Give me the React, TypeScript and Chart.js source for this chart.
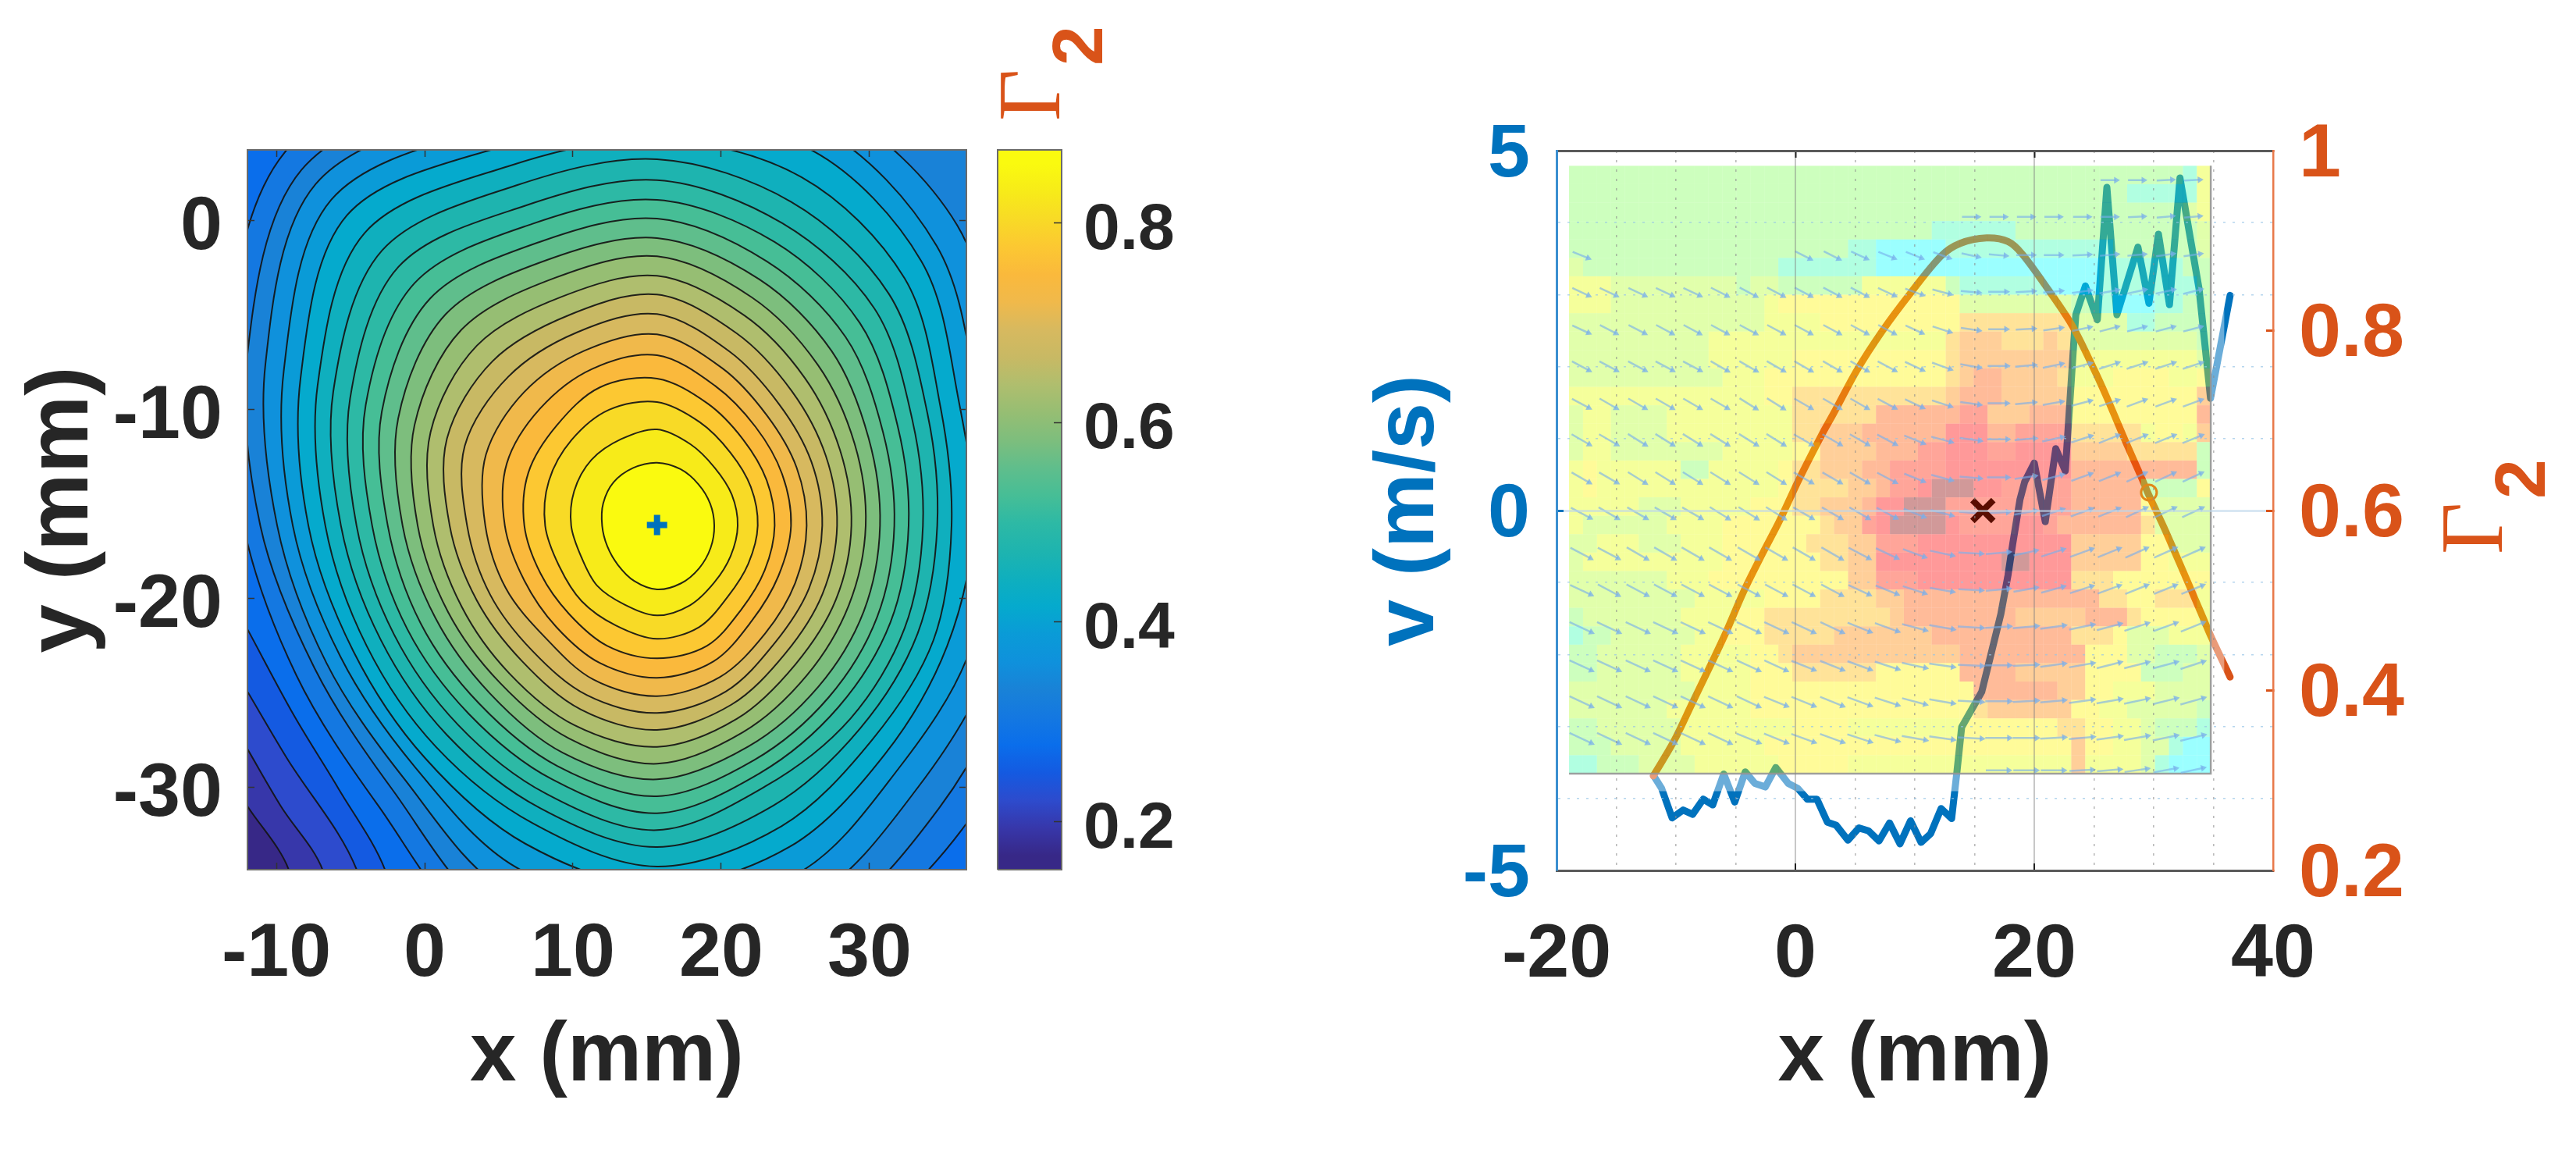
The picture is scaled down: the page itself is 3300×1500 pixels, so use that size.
import React, { useEffect, useRef } from "react";
import { Chart, registerables } from "chart.js";

Chart.register(...registerables);

const FONT = "'Liberation Sans'";
const DARK = "#262626";
const BLUE = "#0072BD";
const ORANGE = "#D95319";

// ---------- left panel
// contours 1-21, inner to outer: distance from the peak, read along 16 spokes
// (0, 22.5, 45 ... 337.5 degrees, anticlockwise from +x); 57 units = 1 mm along x, 72.6 units = 1 mm along y
const peakX = 15.67;
const peakY = -16.13;
const unitsPerMmX = 57;
const unitsPerMmY = 72.6;
const level1 = [220,221,225,235,242,240,236,224,211,207,213,230,245,240,230,223];
const level2 = [310,311,314,338,370,360,357,345,330,315,326,328,345,331,310,306];
const level3 = [387,390,398,430,475,482,465,450,430,407,410,415,435,422,385,380];
const level4 = [452,456,468,508,565,575,545,535,510,484,479,500,510,500,457,448];
const level5 = [515,520,536,582,655,652,636,625,585,552,549,572,585,565,516,505];
const level6 = [575,581,598,655,735,728,724,712,660,629,608,640,655,630,587,575];
const level7 = [635,642,662,725,813,804,809,800,730,694,679,705,720,690,639,632];
const level8 = [692,702,732,800,888,877,894,874,797,750,735,765,785,745,696,688];
const level9 = [747,761,803,875,960,953,979,942,860,813,803,830,850,803,753,744];
const level10 = [802,822,874,950,1035,1030,1064,1009,920,869,854,885,915,860,814,798];
const level11 = [857,880,949,1025,1105,1105,1149,1077,978,923,910,945,975,918,876,860];
const level12 = [912,940,1025,1100,1180,1180,1234,1145,1035,983,967,1000,1040,975,933,916];
const level13 = [967,1001,1102,1180,1252,1255,1318,1212,1095,1039,1023,1055,1105,1030,986,971];
const level14 = [1022,1062,1181,1258,1328,1330,1406,1277,1155,1094,1082,1115,1170,1085,1050,1030];
const level15 = [1077,1125,1260,1347,1408,1415,1495,1347,1215,1149,1140,1175,1235,1165,1103,1084];
const level16 = [1132,1180,1345,1450,1485,1495,1590,1412,1275,1208,1202,1240,1310,1250,1167,1150];
const level17 = [1215,1255,1437,1560,1565,1575,1686,1483,1340,1263,1262,1323,1385,1335,1240,1207];
const level18 = [1280,1330,1520,1650,1650,1660,1771,1553,1400,1317,1314,1420,1470,1440,1316,1295];
const level19 = [1355,1420,1632,1745,1740,1745,1856,1629,1460,1376,1375,1520,1560,1550,1420,1385];
const level20 = [1435,1550,1950,1900,1835,1835,1933,1705,1525,1426,1437,1620,1650,1660,1534,1470];
const level21 = [1500,1650,2100,2100,1950,1950,2026,1790,1590,1501,1518,1720,1740,1750,1655,1560];
const radialLevels = [level1,level2,level3,level4,level5,level6,level7,level8,level9,level10,level11,level12,level13,level14,level15,level16,level17,level18,level19,level20,level21];

// the corner contours 22-25 (x, y in mm), closed far outside the axes
const c22X = [-11.93,-8.81,-5.82,-2.67,-0.04,49,49,-21.09,-21.09];
const c22Y = [-21.64,-26.18,-30.04,-34.35,-41.6,-41.6,10.73,10.73,-19.57];
const c23X = [-11.93,-9.33,-4.58,-2.67,49,49,-21.09,-21.09];
const c23Y = [-24.94,-28.39,-34.35,-41.6,-41.6,10.73,10.73,-22];
const c24X = [-11.93,-9.68,-6.88,-4.58,49,49,-21.09,-21.09];
const c24Y = [-27.98,-31,-34.35,-41.6,-41.6,10.73,10.73,-25];
const c25X = [-11.93,-9.16,-6.88,49,49,-21.09,-21.09];
const c25Y = [-31,-34.35,-41.6,-41.6,10.73,10.73,-28];
const frameX = [-21.09,49,49,-21.09];
const frameY = [-41.6,-41.6,10.73,10.73];
const cornerXs = [c22X,c23X,c24X,c25X];
const cornerYs = [c22Y,c23Y,c24Y,c25Y];

// band colours, from the peak outwards; the last one is the lowest level
const bandColors = [
  "rgb(250,250,15)","rgb(247,235,25)","rgb(248,218,38)","rgb(252,200,50)","rgb(250,185,60)",
  "rgb(240,185,75)","rgb(215,185,95)","rgb(200,185,100)","rgb(175,190,110)","rgb(150,190,115)",
  "rgb(125,190,125)","rgb(95,190,140)","rgb(70,190,150)","rgb(45,185,165)","rgb(30,180,175)",
  "rgb(15,175,190)","rgb(5,170,205)","rgb(10,155,215)","rgb(15,145,220)","rgb(25,130,215)",
  "rgb(20,120,225)","rgb(10,110,235)","rgb(20,90,225)","rgb(45,75,205)","rgb(55,55,170)","rgb(55,40,135)",
];
const colorbarEdges = [0.873,0.845,0.817,0.79,0.762,0.734,0.707,0.679,0.651,0.624,0.596,0.568,0.54,0.513,0.485,0.457,0.43,0.402,0.374,0.346,0.319,0.291,0.263,0.235,0.208,0.18,0.152];
const peakMarker = [{ x: 15.67, y: -16.1 }];

// ---------- right panel
const gammaX = [-11.9,-10.2,-8.6,-7,-5.8,-4.3,-2.8,-1.35,0.28,2.2,3.2,5.2,7.3,9.6,12.2,13.8,16,17.8,19,21.2,23.2,25,26.1,27.8,29,29.6,30.8,31.4,33,34,34.8,36.4];
const gammaY = [0.305,0.343,0.387,0.431,0.465,0.511,0.551,0.588,0.634,0.684,0.708,0.757,0.8,0.841,0.883,0.897,0.903,0.899,0.885,0.845,0.805,0.757,0.725,0.672,0.636,0.617,0.583,0.565,0.516,0.485,0.46,0.415];
const velocityX = [-11.88,-11.2,-10.32,-9.4,-8.6,-7.72,-6.92,-6,-5.08,-4.2,-3.4,-2.52,-1.64,-0.6,0.2,1,1.8,2.68,3.4,4.4,5.32,6.12,7,7.88,8.76,9.64,10.52,11.32,12.2,13.08,13.52,13.92,15.6,16.4,17.2,17.8,18.2,18.8,19.2,20,20.92,21.8,22.6,23.32,23.48,24.28,25.28,26.08,26.92,28.68,29.6,30.4,31.32,32.2,33.8,34.76,36.4];
const velocityY = [-3.68,-3.86,-4.27,-4.16,-4.22,-4.01,-4.09,-3.66,-4.05,-3.63,-3.79,-3.84,-3.57,-3.79,-3.86,-4.01,-4.01,-4.33,-4.37,-4.58,-4.41,-4.45,-4.59,-4.34,-4.63,-4.31,-4.61,-4.49,-4.14,-4.28,-3.64,-3.01,-2.52,-1.98,-1.44,-0.9,-0.46,0.15,0.4,0.66,-0.155,0.86,0.55,2.36,2.72,3.12,2.65,4.49,2.72,3.66,2.88,3.84,2.86,4.62,3.08,1.56,2.99];
const optimumMarker = [{ x: 15.7, y: 0 }];
const gammaMarker = [{ x: 29.6, y: 0.62 }];

// background field: one string per row, top to bottom, one level character per cell
const fieldRows = [
  "2222222222222222222222222222222222222222222214",
  "2222222222222222222222222222222222222222111114",
  "2222222222222222222222222222222222222222222234",
  "2222222222222222222222222" + "21111" + "11222" + "22222" + "22222" + "3",
  "22222222222222222222" + "11000" + "00111" + "11111" + "11112" + "22222" + "3",
  "322222222222222" + "11111" + "11000" + "00000" + "00000" + "00011" + "11112" + "2",
  "44433" + "33333" + "33233" + "22222" + "24444" + "44211" + "11110" + "00011" + "11111" + "2",
  "44433" + "33333" + "33334" + "55555" + "55555" + "55533" + "33333" + "32210" + "00112" + "2",
  "33333" + "33333" + "33334" + "44455" + "55555" + "55566" + "66666" + "63333" + "11222" + "2",
  "33333" + "33333" + "44444" + "44444" + "44444" + "44677" + "76667" + "63333" + "33333" + "2",
  "33333" + "33333" + "44444" + "45555" + "55555" + "55677" + "77777" + "74444" + "44444" + "3",
  "33333" + "33333" + "34445" + "55555" + "55555" + "55678" + "87777" + "64445" + "55544" + "5",
  "44444" + "44444" + "44445" + "56666" + "66666" + "66788" + "87777" + "75555" + "55555" + "7",
  "34433" + "33444" + "44444" + "46666" + "66888" + "88899" + "77788" + "85555" + "55555" + "8",
  "34433" + "33444" + "44444" + "46677" + "78888" + "88AAA" + "88999" + "96666" + "64554" + "7",
  "34433" + "33333" + "34444" + "45577" + "77888" + "99AAA" + "99AAA" + "A7777" + "66666" + "2",
  "45444" + "44422" + "44444" + "56677" + "78899" + "99AAA" + "AAAAA" + "A8888" + "88888" + "2",
  "45444" + "44444" + "44444" + "56666" + "77899" + "ABBBA" + "A9999" + "98888" + "82222" + "5",
  "44444" + "33344" + "44455" + "56677" + "78AAB" + "BB999" + "99999" + "98888" + "85333" + "3",
  "43333" + "33444" + "45555" + "55567" + "79ABB" + "BBA99" + "99AA9" + "88888" + "86333" + "3",
  "33444" + "33344" + "45555" + "55666" + "77999" + "AAAAA" + "AAAAA" + "A7777" + "75533" + "3",
  "34444" + "44444" + "45555" + "55566" + "77AAA" + "AAAAA" + "ABBAA" + "A7777" + "75544" + "4",
  "33333" + "33444" + "55555" + "55555" + "77999" + "AAAAA" + "AAAAA" + "A6665" + "55555" + "5",
  "33333" + "33334" + "44445" + "55566" + "66778" + "88888" + "88888" + "88866" + "55666" + "4",
  "23333" + "33344" + "44556" + "66666" + "66678" + "88888" + "88777" + "77888" + "65555" + "4",
  "12233" + "33334" + "45556" + "66667" + "77777" + "78888" + "88888" + "86665" + "33344" + "4",
  "22333" + "33344" + "44455" + "67777" + "77777" + "77788" + "88888" + "88555" + "33222" + "3",
  "22333" + "33344" + "44455" + "56666" + "66555" + "55588" + "88777" + "77555" + "52223" + "3",
  "33333" + "33334" + "44455" + "55555" + "55555" + "55558" + "88888" + "77554" + "44333" + "3",
  "33333" + "33444" + "44455" + "55555" + "55555" + "55556" + "77777" + "75544" + "33333" + "2",
  "22333" + "33344" + "44444" + "45555" + "44444" + "44455" + "55555" + "66554" + "43222" + "1",
  "22233" + "33344" + "44445" + "55555" + "55555" + "55555" + "55555" + "57554" + "43310" + "0",
  "11222" + "33334" + "44444" + "55555" + "44444" + "44444" + "44444" + "47444" + "43100" + "0",
];
const fieldColors: Record<string, string> = {
  "0": "5,255,255", "1": "60,255,180", "2": "130,255,92", "3": "180,255,45",
  "4": "230,255,5", "5": "255,245,0", "6": "255,185,0", "7": "255,135,0",
  "8": "255,85,0", "9": "255,30,0", "A": "255,0,0", "B": "140,0,0",
};
const fieldLeft = -18.95;
const fieldRight = 34.78;
const fieldTop = 4.79;
const fieldBottom = -3.655;

// arrow field
const arrowColumns = [-18,-15.7,-13.3,-11,-8.7,-6.4,-4,-1.7,0.6,3,5.3,7.6,9.9,12.2,14.6,16.9,19.2,21.5,23.9,26.2,28.5,30.9,33.2];
const arrowRowV = [4.59,4.08,3.55,3.04,2.52,2.01,1.49,0.99,0.46,-0.03,-0.59,-1.1,-1.62,-2.15,-2.65,-3.16,-3.61];
const arrowRowLength = [1.3,1.3,1.4,1.5,1.5,1.6,1.6,1.7,1.7,1.8,1.9,1.9,2,2,2,2,1.9];
const _ = null;
const arrowAngles: (number | null)[][] = [
  [_,_,_,_,_,_,_,_,_,_,_,_,_,_,_,_,_,_,_,0,0,3,3],
  [_,_,_,_,_,_,_,_,_,_,_,_,_,_,0,0,0,0,0,0,3,5,5],
  [-22,_,_,_,_,_,_,_,-27,-27,-25,-22,-22,-20,-12,-5,0,0,3,5,5,8,8],
  [-25,-25,-25,-25,-25,-27,-28,-28,-28,-28,-28,-25,-20,-15,-5,0,3,5,8,10,12,12,14],
  [-25,-27,-27,-28,-28,-28,-28,-28,-28,-28,-28,-28,-25,-18,-8,0,3,8,12,15,15,15,15],
  [-28,-28,-28,-28,-28,-30,-30,-30,-30,-30,-30,-28,-25,-20,-10,0,5,12,15,18,18,18,18],
  [-28,-30,-30,-30,-30,-30,-32,-32,-30,-30,-30,-28,-25,-18,-8,0,5,10,15,18,20,20,20],
  [-30,-30,-32,-32,-32,-32,-32,-32,-30,-30,-30,-28,-22,-15,-8,0,5,12,18,22,22,22,22],
  [-30,-30,-32,-32,-32,-32,-32,-32,-30,-30,-30,-28,-22,-15,-5,0,8,15,20,22,25,25,25],
  [-28,-30,-30,-30,-30,-32,-32,-32,-30,-30,-30,-28,-22,-15,-5,3,10,18,20,22,25,25,25],
  [-28,-28,-30,-30,-30,-30,-30,-30,-30,-30,-28,-25,-20,-12,-3,5,12,18,20,22,24,24,24],
  [-25,-28,-28,-28,-28,-28,-28,-28,-28,-28,-25,-22,-18,-10,-3,5,10,15,18,20,22,22,22],
  [-25,-25,-25,-25,-25,-25,-25,-25,-25,-25,-22,-20,-15,-10,-3,3,5,8,12,15,18,20,22],
  [-25,-25,-25,-25,-25,-25,-25,-25,-22,-22,-20,-18,-12,-8,-3,0,3,8,10,14,14,15,18],
  [-25,-25,-25,-25,-25,-25,-25,-22,-22,-22,-20,-18,-15,-10,-3,0,3,5,8,10,12,14,16],
  [-25,-25,-25,-25,-25,-25,-22,-22,-20,-20,-18,-15,-10,-8,-3,0,0,3,5,8,10,12,14],
  [_,_,_,_,_,_,_,_,_,_,_,_,_,_,_,0,0,0,3,5,8,10,12],
];

const zip = (xs: number[], ys: number[]) => xs.map((x, i) => ({ x, y: ys[i] }));
const closed = (xs: number[], ys: number[]) => {
  const p = zip(xs, ys);
  p.push(p[0]);
  return p;
};
// a radial contour as a closed run, overlapping at the seam so the curve has no corner there;
// the two overlapping end pieces are not stroked
const radialContour = (radii: number[]) => {
  const n = radii.length;
  const p = radii.map((r, i) => {
    const t = (i * 2 * Math.PI) / n;
    return { x: peakX + (r * Math.cos(t)) / unitsPerMmX, y: peakY + (r * Math.sin(t)) / unitsPerMmY };
  });
  return [p[n - 1], ...p, p[0], p[1]];
};
const box = (s: any, w?: number, h?: number) => {
  if (w !== undefined) s.width = w;
  if (h !== undefined) s.height = h;
};
const gammaLabel = (gx: number, gy: number, sx: number, sy: number) => ({
  id: "gammaLabel",
  afterDraw(chart: any) {
    const { ctx } = chart;
    ctx.save();
    ctx.fillStyle = ORANGE;
    ctx.textBaseline = "alphabetic";
    ctx.translate(gx, gy);
    ctx.rotate(-Math.PI / 2);
    ctx.font = "115px 'Liberation Serif'";
    ctx.fillText("Γ", 0, 0);
    ctx.restore();
    ctx.save();
    ctx.fillStyle = ORANGE;
    ctx.textBaseline = "alphabetic";
    ctx.translate(sx, sy);
    ctx.rotate(-Math.PI / 2);
    ctx.font = `bold 91px ${FONT}`;
    ctx.fillText("2", 0, 0);
    ctx.restore();
  },
});

const tickFont = { family: FONT, size: 97, weight: "bold" as const };
const titleFont = { family: FONT, size: 107, weight: "bold" as const };
const frameBorder = { display: true, color: "#6b6b6b", width: 2, z: 2 };

function makeContourChart(canvas: HTMLCanvasElement) {
  const contourStyle = (i: number) => ({
    borderColor: "rgba(20,20,20,0.92)",
    borderWidth: 2,
    backgroundColor: bandColors[i],
    fill: "shape",
    tension: 0.33,
    capBezierPoints: false,
    pointRadius: 0,
    order: i + 2,
  });
  const datasets: any[] = radialLevels.map((radii, i) => ({
    data: radialContour(radii),
    ...contourStyle(i),
    segment: {
      borderColor: (s: any) => (s.p0DataIndex === 0 || s.p0DataIndex === radii.length + 1 ? "rgba(0,0,0,0)" : undefined),
    },
  }));
  cornerXs.forEach((xs, i) => {
    datasets.push({ data: closed(xs, cornerYs[i]), ...contourStyle(radialLevels.length + i) });
  });
  datasets.push({
    data: closed(frameX, frameY),
    borderWidth: 0,
    backgroundColor: bandColors[25],
    fill: "shape",
    pointRadius: 0,
    order: 40,
  });
  datasets.push({
    data: peakMarker,
    showLine: false,
    pointStyle: "cross",
    pointRadius: 13,
    pointBorderWidth: 8,
    pointBorderColor: BLUE,
    order: 0,
  });
  return new Chart(canvas, {
    type: "line",
    data: { datasets },
    options: {
      animation: false,
      responsive: false,
      devicePixelRatio: 1,
      events: [],
      layout: { padding: { top: 192, right: 60, left: 0, bottom: 0 } },
      plugins: { legend: { display: false }, tooltip: { enabled: false } },
      scales: {
        x: {
          type: "linear",
          position: "bottom",
          min: -11.95,
          max: 36.53,
          afterFit: (s: any) => box(s, undefined, 386),
          grid: { drawOnChartArea: false, tickLength: -9, tickColor: "#333", tickWidth: 1.5, z: 1 },
          border: frameBorder,
          ticks: {
            stepSize: 10,
            includeBounds: false,
            autoSkip: false,
            maxRotation: 0,
            padding: 60,
            color: DARK,
            font: tickFont,
            callback: (v: any) => String(v),
          },
          title: { display: true, text: "x (mm)", color: DARK, font: titleFont, padding: { top: 0, bottom: 81 } },
        },
        xTop: {
          type: "linear",
          position: "top",
          min: -11.95,
          max: 36.53,
          afterFit: (s: any) => box(s, undefined, 0),
          grid: { drawOnChartArea: false, tickLength: -9, tickColor: "#333", tickWidth: 1.5, z: 1 },
          border: frameBorder,
          ticks: { stepSize: 10, includeBounds: false, display: false },
        },
        y: {
          type: "linear",
          position: "left",
          min: -34.34,
          max: 3.76,
          afterFit: (s: any) => box(s, 317),
          grid: { drawOnChartArea: false, tickLength: -9, tickColor: "#333", tickWidth: 1.5, z: 1 },
          border: frameBorder,
          ticks: {
            stepSize: 10,
            includeBounds: false,
            autoSkip: false,
            padding: 41,
            labelOffset: 9,
            color: DARK,
            font: tickFont,
            callback: (v: any) => String(v),
          },
          title: {
            display: true,
            text: "y (mm)",
            color: DARK,
            font: { family: FONT, size: 112, weight: "bold" },
            padding: { top: 14, bottom: 0 },
          },
        },
        yRight: {
          type: "linear",
          position: "right",
          min: -34.34,
          max: 3.76,
          afterFit: (s: any) => box(s, 0),
          grid: { drawOnChartArea: false, tickLength: -9, tickColor: "#333", tickWidth: 1.5, z: 1 },
          border: frameBorder,
          ticks: { stepSize: 10, includeBounds: false, display: false },
        },
      },
    } as any,
  });
}

function makeColorbar(canvas: HTMLCanvasElement) {
  const fillGradient = (c: any) => {
    const { ctx, chartArea, scales } = c.chart;
    if (!chartArea) return bandColors[12];
    const g = ctx.createLinearGradient(0, chartArea.top, 0, chartArea.bottom);
    bandColors.forEach((col, i) => {
      const mid = (colorbarEdges[i] + colorbarEdges[i + 1]) / 2;
      const p = (scales.y.getPixelForValue(mid) - chartArea.top) / (chartArea.bottom - chartArea.top);
      g.addColorStop(Math.min(1, Math.max(0, p)), col);
    });
    return g;
  };
  return new Chart(canvas, {
    type: "bar",
    data: {
      datasets: [
        {
          data: [{ x: 0.5, y: [0.152, 0.873] }],
          backgroundColor: fillGradient,
          barThickness: 82,
          borderWidth: 0,
          order: 2,
        } as any,
        {
          type: "line",
          data: closed([0, 1, 1, 0], [0.152, 0.152, 0.873, 0.873]),
          borderColor: "#6b6b6b",
          borderWidth: 2,
          pointRadius: 0,
          order: 1,
          clip: false,
        } as any,
      ],
    },
    options: {
      animation: false,
      responsive: false,
      devicePixelRatio: 1,
      events: [],
      layout: { padding: { top: 192, left: 28, right: 0, bottom: 386 } },
      plugins: { legend: { display: false }, tooltip: { enabled: false } },
      scales: {
        x: { type: "linear", min: 0, max: 1, display: false, offset: false, grid: { offset: false } },
        y: {
          type: "linear",
          position: "right",
          min: 0.152,
          max: 0.873,
          afterFit: (s: any) => box(s, 340),
          grid: { drawOnChartArea: false, tickLength: -10, tickColor: "#333", tickWidth: 1.5, z: 1 },
          border: { display: false },
          ticks: {
            stepSize: 0.2,
            includeBounds: false,
            autoSkip: false,
            padding: 38,
            labelOffset: 10,
            color: DARK,
            font: { family: FONT, size: 84, weight: "bold" },
            callback: (v: any) => String(+Number(v).toFixed(1)),
          },
        },
      },
    } as any,
    plugins: [gammaLabel(107, 155, 162, 84)],
  });
}

function makeFieldChart(canvas: HTMLCanvasElement) {
  const nRows = fieldRows.length;
  const nCols = 46;
  const cellW = (fieldRight - fieldLeft) / nCols;
  const cellH = (fieldTop - fieldBottom) / nRows;
  const cells: any[] = [];
  const cellColors: string[] = [];
  fieldRows.forEach((row, r) => {
    for (let c = 0; c < nCols; c++) {
      const ch = row[c] ?? "2";
      cells.push({ x: fieldLeft + (c + 0.5) * cellW, y: [fieldTop - (r + 1) * cellH, fieldTop - r * cellH] });
      cellColors.push(`rgba(${fieldColors[ch]},0.4)`);
    }
  });
  // 15.3 px per mm and 92.2 px per m/s keep the arrows' drawn angle
  const pxPerMm = 15.3;
  const aspect = pxPerMm / 92.2;
  const arrows: any[] = [];
  arrowAngles.forEach((row, r) => {
    row.forEach((a, c) => {
      if (a === null) return;
      const rad = (a * Math.PI) / 180;
      const dx = arrowRowLength[r] * Math.cos(rad);
      const dy = arrowRowLength[r] * Math.sin(rad) * aspect;
      const x0 = arrowColumns[c];
      const y0 = arrowRowV[r];
      arrows.push({ x: x0 - dx / 2, y: y0 - dy / 2 });
      arrows.push({ x: x0 + dx / 2, y: y0 + dy / 2, rot: 90 - a });
      arrows.push({ x: NaN, y: NaN });
    });
  });

  return new Chart(canvas, {
    type: "bar",
    data: {
      datasets: [
        {
          type: "line",
          data: zip(velocityX, velocityY),
          yAxisID: "y",
          borderColor: BLUE,
          borderWidth: 9,
          borderJoinStyle: "round",
          borderCapStyle: "round",
          pointRadius: 0,
          order: 10,
          clip: false,
        },
        {
          type: "line",
          data: zip(gammaX, gammaY),
          yAxisID: "yGamma",
          borderColor: ORANGE,
          borderWidth: 9,
          borderCapStyle: "round",
          tension: 0.33,
          capBezierPoints: false,
          pointRadius: 0,
          order: 9,
          clip: false,
        },
        {
          type: "bar",
          data: cells,
          yAxisID: "y",
          backgroundColor: cellColors,
          barThickness: cellW * pxPerMm,
          borderWidth: 0,
          inflateAmount: 0,
          order: 6,
        },
        {
          type: "line",
          data: zip([fieldLeft, 35.9], [-3.78, -3.78]),
          yAxisID: "y",
          borderColor: "rgba(255,255,255,0.42)",
          borderWidth: 22,
          pointRadius: 0,
          order: 5,
        },
        {
          type: "line",
          data: zip([35.35, 35.35], [fieldTop, -3.65]),
          yAxisID: "y",
          borderColor: "rgba(255,255,255,0.42)",
          borderWidth: 17,
          pointRadius: 0,
          order: 5,
        },
        {
          type: "line",
          data: zip([fieldLeft, fieldRight, fieldRight], [fieldBottom, fieldBottom, fieldTop]),
          yAxisID: "y",
          borderColor: "rgba(150,150,150,0.9)",
          borderWidth: 2.5,
          pointRadius: 0,
          order: 4,
        },
        {
          type: "line",
          data: arrows,
          yAxisID: "y",
          borderColor: "rgba(120,175,235,0.62)",
          borderWidth: 2.5,
          spanGaps: false,
          pointStyle: "triangle",
          pointRadius: (ctx: any) => (ctx.raw && ctx.raw.rot !== undefined ? 5 : 0),
          pointRotation: (ctx: any) => (ctx.raw && ctx.raw.rot !== undefined ? ctx.raw.rot : 0),
          pointBackgroundColor: "rgba(120,175,235,0.75)",
          pointBorderWidth: 0,
          order: 3,
        },
        {
          type: "line",
          data: optimumMarker,
          yAxisID: "y",
          showLine: false,
          pointStyle: "crossRot",
          pointRadius: 19,
          pointBorderWidth: 8,
          pointBorderColor: "#5a0d00",
          order: 1,
        },
        {
          type: "line",
          data: gammaMarker,
          yAxisID: "yGamma",
          showLine: false,
          pointStyle: "circle",
          pointRadius: 10,
          pointBorderWidth: 3,
          pointBackgroundColor: "rgba(0,0,0,0)",
          pointBorderColor: "rgb(225,135,25)",
          order: 1,
        },
      ] as any,
    },
    options: {
      animation: false,
      responsive: false,
      devicePixelRatio: 1,
      events: [],
      layout: { padding: { top: 193, right: 0, left: 0, bottom: 0 } },
      plugins: { legend: { display: false }, tooltip: { enabled: false } },
      scales: {
        x: {
          type: "linear",
          position: "bottom",
          min: -20,
          max: 40,
          offset: false,
          afterFit: (s: any) => box(s, undefined, 385),
          grid: {
            offset: false,
            z: 1,
            tickLength: -9,
            tickWidth: 2,
            tickColor: (c: any) => (c.tick && (c.tick.value === 0 || c.tick.value === 20) ? "#222" : "rgba(0,0,0,0)"),
            color: (c: any) => {
              const v = c.tick && c.tick.value;
              if (v === -20 || v === 40) return "rgba(0,0,0,0)";
              return v === 0 || v === 20 ? "rgba(130,130,130,0.45)" : "rgba(140,140,140,0.6)";
            },
            lineWidth: (c: any) => (c.tick && (c.tick.value === 0 || c.tick.value === 20) ? 2 : 1.6),
          },
          border: {
            display: true,
            color: "#5a5a5a",
            width: 3,
            z: 2,
            dash: (c: any) => (c.tick && (c.tick.value === 0 || c.tick.value === 20) ? [] : [3, 9]),
          },
          ticks: {
            stepSize: 5,
            autoSkip: false,
            maxRotation: 0,
            padding: 60,
            color: DARK,
            font: tickFont,
            callback: (v: any) => (Number(v) % 20 === 0 ? String(v) : ""),
          },
          title: { display: true, text: "x (mm)", color: DARK, font: titleFont, padding: { top: 0, bottom: 81 } },
        },
        xTop: {
          type: "linear",
          position: "top",
          min: -20,
          max: 40,
          offset: false,
          afterFit: (s: any) => box(s, undefined, 0),
          grid: {
            offset: false,
            drawOnChartArea: false,
            z: 1,
            tickLength: -9,
            tickWidth: 2,
            tickColor: (c: any) => (c.tick && (c.tick.value === 0 || c.tick.value === 20) ? "#222" : "rgba(0,0,0,0)"),
          },
          border: { display: true, color: "#5a5a5a", width: 3, z: 2 },
          ticks: { stepSize: 20, display: false },
        },
        y: {
          type: "linear",
          position: "left",
          min: -5,
          max: 5,
          afterFit: (s: any) => box(s, 294),
          grid: {
            z: 1,
            tickLength: -9,
            tickWidth: 3,
            tickColor: (c: any) => (c.tick && c.tick.value === 0 ? BLUE : "rgba(0,0,0,0)"),
            color: (c: any) => {
              const v = c.tick && c.tick.value;
              if (v === 5 || v === -5) return "rgba(0,0,0,0)";
              return v === 0 ? "rgba(190,215,235,0.6)" : "rgba(150,195,230,0.7)";
            },
            lineWidth: (c: any) => (c.tick && c.tick.value === 0 ? 3 : 1.6),
          },
          border: {
            display: true,
            color: "#3b8fd0",
            width: 3,
            z: 2,
            dash: (c: any) => (c.tick && c.tick.value === 0 ? [] : [3, 9]),
          },
          ticks: {
            stepSize: 1,
            autoSkip: false,
            padding: 43,
            labelOffset: 6,
            color: BLUE,
            font: tickFont,
            callback: (v: any) => (Number(v) % 5 === 0 ? String(v) : ""),
          },
          title: {
            display: true,
            text: "v (m/s)",
            color: BLUE,
            font: { family: FONT, size: 108, weight: "bold" },
            padding: { top: 41, bottom: 0 },
          },
        },
        yGamma: {
          type: "linear",
          position: "right",
          min: 0.2,
          max: 1,
          afterFit: (s: any) => box(s, 388),
          grid: {
            drawOnChartArea: false,
            z: 1,
            tickLength: -9,
            tickWidth: 3,
            tickColor: ORANGE,
          },
          border: { display: true, color: "#e8794a", width: 2.5, z: 2 },
          ticks: {
            stepSize: 0.2,
            autoSkip: false,
            padding: 42,
            labelOffset: 6,
            color: ORANGE,
            font: tickFont,
            callback: (v: any) => String(+Number(v).toFixed(1)),
          },
        },
      },
    } as any,
    plugins: [gammaLabel(1505, 710, 1560, 639)],
  });
}

export default function App() {
  const a = useRef<HTMLCanvasElement>(null);
  const b = useRef<HTMLCanvasElement>(null);
  const c = useRef<HTMLCanvasElement>(null);
  useEffect(() => {
    document.body.style.margin = "0";
    document.body.style.background = "#fff";
    const charts = [makeContourChart(a.current!), makeColorbar(b.current!), makeFieldChart(c.current!)];
    return () => charts.forEach((ch) => ch.destroy());
  }, []);
  const abs = (left: number): React.CSSProperties => ({ position: "absolute", left, top: 0, display: "block" });
  return (
    <div style={{ position: "relative", width: 3300, height: 1500, background: "#fff", overflow: "hidden" }}>
      <canvas ref={a} width={1298} height={1500} style={abs(0)} />
      <canvas ref={b} width={450} height={1500} style={abs(1250)} />
      <canvas ref={c} width={1600} height={1500} style={abs(1700)} />
    </div>
  );
}
